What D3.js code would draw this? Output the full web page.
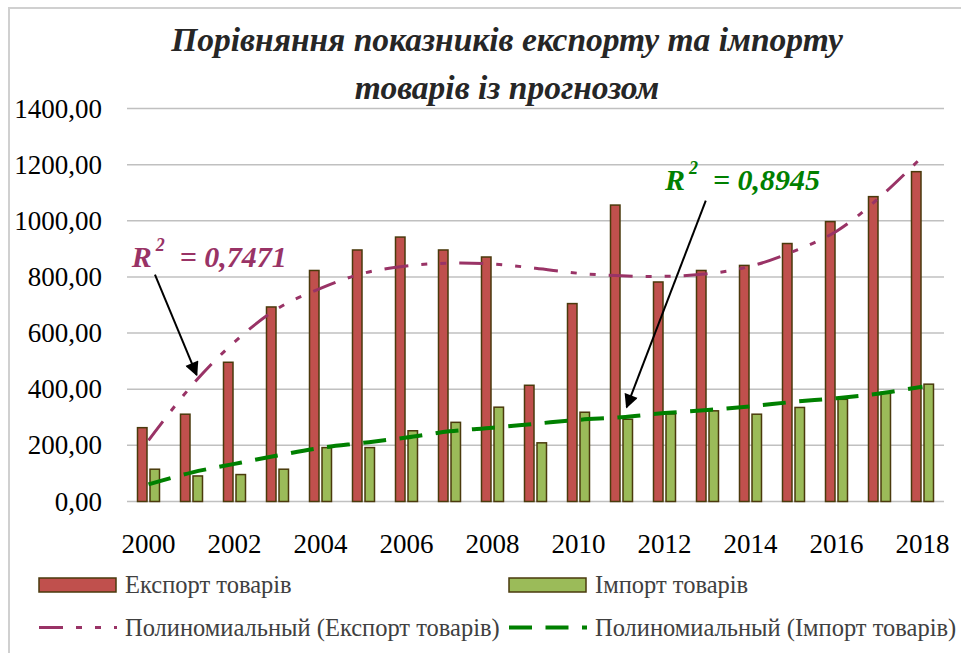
<!DOCTYPE html>
<html>
<head>
<meta charset="utf-8">
<script src="https://cdn.jsdelivr.net/npm/d3@7"></script>
<style>
  body { margin: 0; background: #fff; }
  svg { display: block; }
</style>
</head>
<body>
<svg id="chart"></svg>
<script>
// values
const years = ["2000", "2001", "2002", "2003", "2004", "2005", "2006", "2007", "2008", "2009",
  "2010", "2011", "2012", "2013", "2014", "2015", "2016", "2017", "2018"];
const exportVals = [263, 311, 496, 693, 823, 896, 942, 896, 871, 414, 705, 1056, 782, 823, 841, 919, 997, 1086, 1175];
const importVals = [115, 91, 96, 115, 192, 192, 252, 282, 336, 209, 318, 293, 312, 323, 311, 335, 364, 389, 418];
const exportTrend = [218, 412, 568, 687, 759, 813, 839, 849, 846, 831, 813, 804, 802, 811, 838, 891, 963, 1083, 1229];
const importTrend = [61, 103, 134, 164, 191, 209, 228, 250, 263, 277, 291, 300, 315, 326, 339, 355, 368, 385, 409];
const yTicks = [0, 200, 400, 600, 800, 1000, 1200, 1400];
const xTickLabels = ["2000", "2002", "2004", "2006", "2008", "2010", "2012", "2014", "2016", "2018"];
const titleLines = ["Порівняння показників експорту та імпорту", "товарів із прогнозом"];
const seriesNames = ["Експорт товарів", "Імпорт товарів"];
const trendNames = ["Полиномиальный (Експорт товарів)", "Полиномиальный (Імпорт товарів)"];
// r² labels: [year position, value] of label and of arrow start / tip
const rLabels = [
  { text: "0,7471", at: [1999.61, 835], from: [2000.15, 808], to: [2001.12, 451], color: "#993366" },
  { text: "0,8945", at: [2012.01, 1111], from: [2012.96, 1072], to: [2011.12, 336], color: "#008000" }
];

const W = 961, H = 653;
const serif = "'Liberation Serif', 'Times New Roman', serif";
const red = "#C0504D", green = "#9BBB59", outline = "#4a3a0c";

const svg = d3.select("#chart").attr("width", W).attr("height", H);

svg.append("rect").attr("width", W).attr("height", H).attr("fill", "#fff");
svg.append("rect")
  .attr("x", 9).attr("y", 8).attr("width", 980).attr("height", 680)
  .attr("fill", "none").attr("stroke", "#d0d0d0").attr("stroke-width", 2);

const x = d3.scaleBand().domain(years).range([127, 944]).padding(0);
const y = d3.scaleLinear().domain([0, 1400]).range([501.5, 108.5]);
const xs = d3.scaleBand().domain(["export", "import"]).range([-11, 11]).paddingInner(0.24);
const cx = (yr) => x(yr) + x.bandwidth() / 2;
const xYear = d3.scaleLinear().domain([+years[0], +years[years.length - 1]])
  .range([cx(years[0]), cx(years[years.length - 1])]);

const fmt = (v) => d3.format(".2f")(v).replace(".", ",");

// gridlines
svg.append("g").selectAll("line").data(yTicks).join("line")
  .attr("x1", 127).attr("x2", 944)
  .attr("y1", (d) => y(d)).attr("y2", (d) => y(d))
  .attr("stroke", "#c0c0c0").attr("stroke-width", 1.5);

// y labels
svg.append("g").selectAll("text").data(yTicks).join("text")
  .attr("x", 102).attr("y", (d) => y(d))
  .attr("text-anchor", "end").attr("dominant-baseline", "central")
  .attr("font-family", serif).attr("font-size", 27).attr("fill", "#000")
  .text(fmt);

// x labels
svg.append("g").selectAll("text").data(xTickLabels).join("text")
  .attr("x", (d) => cx(d)).attr("y", 553)
  .attr("text-anchor", "middle")
  .attr("font-family", serif).attr("font-size", 27).attr("fill", "#000")
  .text((d) => d);

// bars
const bars = svg.append("g");
bars.selectAll("rect.exp").data(exportVals).join("rect")
  .attr("class", "exp")
  .attr("x", (d, i) => cx(years[i]) + xs("export"))
  .attr("y", (d) => y(d))
  .attr("width", xs.bandwidth())
  .attr("height", (d) => y(0) - y(d))
  .attr("fill", red).attr("stroke", outline).attr("stroke-width", 1.5);
bars.selectAll("rect.imp").data(importVals).join("rect")
  .attr("class", "imp")
  .attr("x", (d, i) => cx(years[i]) + xs("import"))
  .attr("y", (d) => y(d))
  .attr("width", xs.bandwidth())
  .attr("height", (d) => y(0) - y(d))
  .attr("fill", green).attr("stroke", outline).attr("stroke-width", 1.5);

// trend lines
const line = d3.line()
  .x((d, i) => cx(years[i]))
  .y((d) => y(d))
  .curve(d3.curveCatmullRom.alpha(0.5));

const purpleDash = "24,13,6,13,6,13";
const greenDash = "23,13.5";

svg.append("path").datum(exportTrend)
  .attr("d", line).attr("fill", "none")
  .attr("stroke", "#993366").attr("stroke-width", 3)
  .attr("stroke-dasharray", purpleDash);
svg.append("path").datum(importTrend)
  .attr("d", line).attr("fill", "none")
  .attr("stroke", "#008000").attr("stroke-width", 4)
  .attr("stroke-dasharray", greenDash);

// arrows + R² labels
svg.append("defs").append("marker")
  .attr("id", "arrow")
  .attr("viewBox", "0 0 10 10")
  .attr("refX", 9).attr("refY", 5)
  .attr("markerWidth", 7.5).attr("markerHeight", 7)
  .attr("markerUnits", "strokeWidth")
  .attr("orient", "auto")
  .append("path").attr("d", "M0,0L10,5L0,10z").attr("fill", "#000");

rLabels.forEach((r) => {
  svg.append("line")
    .attr("x1", xYear(r.from[0])).attr("y1", y(r.from[1]))
    .attr("x2", xYear(r.to[0])).attr("y2", y(r.to[1]))
    .attr("stroke", "#000").attr("stroke-width", 2)
    .attr("marker-end", "url(#arrow)");

  const t = svg.append("text")
    .attr("x", xYear(r.at[0])).attr("y", y(r.at[1]))
    .attr("font-family", serif).attr("font-size", 30)
    .attr("font-weight", "bold").attr("font-style", "italic")
    .attr("fill", r.color);
  t.append("tspan").text("R");
  t.append("tspan").attr("dx", 4).attr("dy", -16).attr("font-size", 18).text("2");
  t.append("tspan").attr("dx", 15).attr("dy", 16).text("= " + r.text);
});

// title
svg.append("g").selectAll("text").data(titleLines).join("text")
  .attr("x", 507).attr("y", (d, i) => 51 + i * 48)
  .attr("text-anchor", "middle")
  .attr("font-family", serif).attr("font-size", 33.5)
  .attr("font-weight", "bold").attr("font-style", "italic")
  .attr("fill", "#262626")
  .text((d) => d);

// legend
const legend = svg.append("g").attr("font-family", serif).attr("font-size", 24.5).attr("fill", "#404040");
const legX = [39, 509];
[red, green].forEach((c, i) => {
  legend.append("rect")
    .attr("x", legX[i]).attr("y", 578).attr("width", 77).attr("height", 14)
    .attr("fill", c).attr("stroke", outline).attr("stroke-width", 1.5);
  legend.append("text").attr("x", legX[i] + 86).attr("y", 593).text(seriesNames[i]);
});
[["#993366", 3, purpleDash], ["#008000", 4, greenDash]].forEach((s, i) => {
  legend.append("line")
    .attr("x1", legX[i]).attr("x2", legX[i] + 78)
    .attr("y1", 627.5).attr("y2", 627.5)
    .attr("stroke", s[0]).attr("stroke-width", s[1])
    .attr("stroke-dasharray", s[2]);
  legend.append("text").attr("x", legX[i] + 86).attr("y", 636).text(trendNames[i]);
});
</script>
</body>
</html>
